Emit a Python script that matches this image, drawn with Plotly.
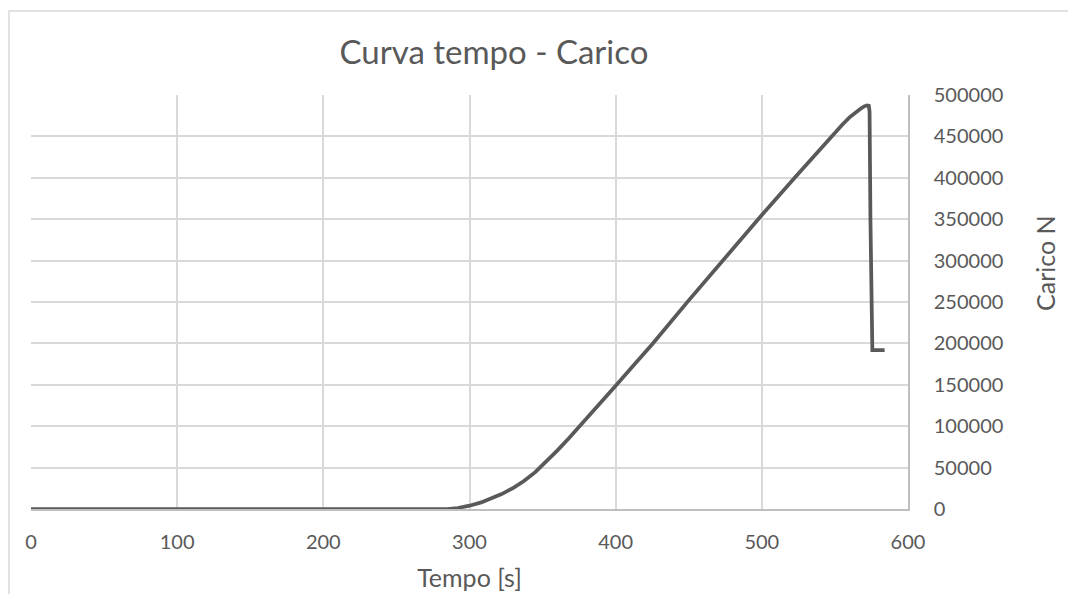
import plotly.graph_objects as go

# Data
tempo_s = [0, 50, 100, 150, 200, 250, 285, 292, 300, 308, 315, 322, 330, 337, 345, 352,
           360, 368, 376, 384, 392, 400, 412, 425, 450, 475, 500, 524, 548,
           555, 560, 564, 567.5, 570, 572, 573.2, 573.7, 574.3, 575, 575.6, 584]
carico_n = [0, 0, 0, 0, 0, 0, 0, 1200, 4000, 8000, 12500, 18000, 25500, 33500, 44500, 56000,
            70500, 85500, 101000, 117000, 133000, 149000, 173000, 199000, 252000, 304000,
            355000, 403000, 451000, 464000, 473000, 479000, 483500, 486300, 487500,
            487000, 480000, 350000, 198000, 192000, 192000]

x_ticks = [0, 100, 200, 300, 400, 500, 600]
y_ticks = [0, 50000, 100000, 150000, 200000, 250000, 300000, 350000, 400000, 450000, 500000]

W, H = 1068, 594
L, R, T, B = 31, 908, 95, 509  # plot area in px
FONT = "Lato"
TXT = "#595959"

fig = go.Figure()
fig.add_trace(go.Scatter(x=tempo_s, y=carico_n, mode="lines",
                         line=dict(color="#595959", width=3.75),
                         showlegend=False, hoverinfo="x+y"))

def px_x(p):
    return (p - L) / (R - L)

def px_y(p):
    return (B - p) / (B - T)

fig.update_layout(
    width=W, height=H,
    margin=dict(l=L, r=W - R, t=T, b=H - B, autoexpand=False),
    paper_bgcolor="white", plot_bgcolor="white",
    font=dict(family=FONT, color=TXT),
    title=dict(text="Curva tempo - Carico", x=494 / W, xref="container", xanchor="center",
               y=1 - 52 / H, yref="container", yanchor="middle",
               font=dict(family=FONT, size=33, color=TXT)),
    xaxis=dict(range=[0, 600], tickvals=x_ticks, ticktext=[str(v) for v in x_ticks],
               showgrid=True, gridcolor="#d9d9d9", gridwidth=1.5,
               showline=True, linecolor="#bfbfbf", linewidth=1.5,
               zeroline=False, ticks="", ticklabelstandoff=14,
               tickfont=dict(family=FONT, size=20, color=TXT),
               title=dict(text="Tempo [s]", standoff=18,
                          font=dict(family=FONT, size=25, color=TXT)),
               automargin=False),
    yaxis=dict(range=[0, 500000], side="right", tickvals=y_ticks,
               ticktext=[str(v) for v in y_ticks],
               showgrid=True, gridcolor="#d9d9d9", gridwidth=1.5,
               showline=True, linecolor="#bfbfbf", linewidth=1.5,
               zeroline=False, ticks="", ticklabelstandoff=20,
               tickfont=dict(family=FONT, size=20, color=TXT),
               automargin=False),
    annotations=[dict(text="Carico N", textangle=-90, xref="paper", yref="paper",
                      x=px_x(1045), y=px_y(263), xanchor="center", yanchor="middle",
                      showarrow=False, font=dict(family=FONT, size=25, color=TXT))],
    shapes=[dict(type="rect", xref="paper", yref="paper",
                 x0=px_x(9), x1=px_x(1100), y0=px_y(11), y1=px_y(640),
                 line=dict(color="#d9d9d9", width=1.5), fillcolor="rgba(0,0,0,0)",
                 layer="below")],
)

fig.write_html("out.html", config={"displayModeBar": False},
               post_script="document.body.style.margin='0';document.body.style.overflow='hidden';")
